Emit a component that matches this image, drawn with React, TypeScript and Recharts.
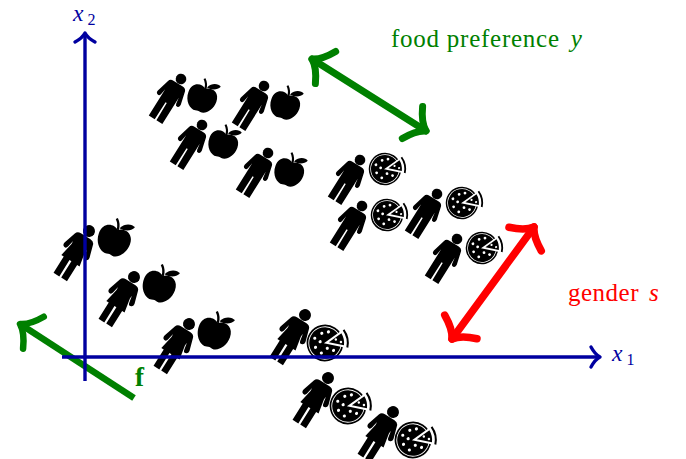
import { ScatterChart, Scatter, XAxis, YAxis } from 'recharts'

// one unit is one pixel, the origin is where the two axes cross
const menApple = [
  { x: 96, y: 278 },
  { x: 179, y: 271 },
  { x: 117, y: 232 },
  { x: 183, y: 204 }
]
const menPizza = [
  { x: 275, y: 197 },
  { x: 277, y: 151 },
  { x: 352, y: 163 },
  { x: 372, y: 118 }
]
const womenApple = [
  { x: 4, y: 126 },
  { x: 49, y: 80 },
  { x: 104, y: 33 }
]
const womenPizza = [
  { x: 220, y: 42 },
  { x: 243, y: -21 },
  { x: 308, y: -55 }
]

const axisX1 = [{ x: -23, y: 0 }, { x: 515, y: 0 }]
const axisX2 = [{ x: 0, y: -24 }, { x: 0, y: 324 }]
const directionF = [{ x: 49, y: -41 }, { x: -65, y: 33 }]
const foodArrow = [{ x: 341, y: 226 }, { x: 227, y: 298 }]
const genderArrow = [{ x: 367, y: 18 }, { x: 449, y: 130 }]

const foodLabelAt = [{ x: 306, y: 310 }]
const genderLabelAt = [{ x: 483, y: 56 }]
const x1LabelAt = [{ x: 527, y: -4 }]
const x2LabelAt = [{ x: -12, y: 336 }]
const fLabelAt = [{ x: 50, y: -29 }]

const BLUE = '#0000a0'
const GREEN = '#008000'
const RED = '#ff0000'
const SERIF = '"Liberation Serif", serif'

function Apple() {
  return (
    <g transform="rotate(20)">
      <path
        d="M0,-9 C-4,-13 -14,-12 -14,-1 C-14,8 -7,14 -2,13 C0,12.5 1,12.5 3,13 C8,14 14,7 14,-1 C14,-11 5,-13 0,-9 Z"
        fill="#000"
      />
      <path d="M0,-9 C0,-13 -2,-16 -4,-18" fill="none" stroke="#000" strokeWidth={2} />
      <path d="M1,-11 C4,-17 10,-18 13,-16 C11,-12 6,-10 1,-11 Z" fill="#000" />
    </g>
  )
}

const pizzaDots = [[-8, -6], [-1, -9], [5, -9], [-9, 2], [-4, -2], [-5, 8], [1, 5], [6, 8]]

function Pizza() {
  return (
    <g transform="rotate(-12)">
      <circle r={15.5} fill="#fff" stroke="#000" strokeWidth={1.5} />
      <circle r={14} fill="#000" />
      {pizzaDots.map(([dx, dy], i) => (
        <circle key={i} cx={dx} cy={dy} r={1.4} fill="#fff" />
      ))}
      <path d="M-1,0 L22,-10 L22,10 Z" fill="#fff" />
      <path d="M3.5,0 L16,-5.5 A17,17 0 0 1 16,5.5 Z" fill="#000" />
      <circle cx={10} cy={-1} r={1.1} fill="#fff" />
      <circle cx={14} cy={2} r={1.1} fill="#fff" />
      <path d="M18.5,-8 A20,20 0 0 1 18.5,8" fill="none" stroke="#000" strokeWidth={1.8} />
    </g>
  )
}

function Man() {
  return (
    <g transform="rotate(32)">
      <circle r={5.3} fill="#000" />
      <path
        d="M-10,8.5 Q-9,5.5 -5.5,5.5 L5.5,5.5 Q9,5.5 10,8.5 L13.5,22 Q14,25 11.5,25.5 Q9.5,26 9,23.5 L8,17 L8,48 L1,48 L0.7,28 L-0.7,28 L-1,48 L-8,48 L-8,17 L-9,23.5 Q-9.5,26 -11.5,25.5 Q-14,25 -13.5,22 Z"
        fill="#000"
      />
    </g>
  )
}

function Woman() {
  return (
    <g transform="rotate(32) scale(1.13)">
      <circle r={5.3} fill="#000" />
      <path
        d="M-9.5,8.5 Q-8.5,5.5 -5,5.5 L5,5.5 Q8.5,5.5 9.5,8.5 L13,20 Q13.5,23 11,23.5 Q9,24 8.5,21.5 L7.2,15 L7,18 L9.5,31 L7,31 L7,48 L1,48 L1,31 L-1,31 L-1,48 L-7,48 L-7,31 L-9.5,31 L-7,18 L-7.2,15 L-8.5,21.5 Q-9,24 -11,23.5 Q-13.5,23 -13,20 Z"
        fill="#000"
      />
    </g>
  )
}

function figure(Person: () => any, Icon: () => any, dx: number, dy: number, iconScale = 1) {
  return (props: any) => (
    <g transform={`translate(${props.cx},${props.cy})`}>
      <Person />
      <g transform={`translate(${dx},${dy}) scale(${iconScale})`}>
        <Icon />
      </g>
    </g>
  )
}

// curved arrow head, one per end of the segment unless single is set
function arrowHead(seg: { x: number; y: number }[], color: string, w: number, back: number, side: number, single = false) {
  return (props: any) => {
    const p = props.payload
    const atEnd = p.x === seg[1].x && p.y === seg[1].y
    if (single && !atEnd) return <g />
    const from = atEnd ? seg[0] : seg[1]
    const to = atEnd ? seg[1] : seg[0]
    const angle = (Math.atan2(-(to.y - from.y), to.x - from.x) * 180) / Math.PI
    return (
      <path
        transform={`translate(${props.cx},${props.cy}) rotate(${angle})`}
        d={`M${-back},${-side} Q${-back * 0.55},${-side * 0.25} 0,0 Q${-back * 0.55},${side * 0.25} ${-back},${side}`}
        fill="none"
        stroke={color}
        strokeWidth={w}
        strokeLinecap="round"
        strokeLinejoin="round"
      />
    )
  }
}

function arrowLine(color: string, w: number, cap = 'round') {
  return { stroke: color, strokeWidth: w, strokeLinecap: cap }
}

function textAt(content: any, color: string, size: number, bold = false, spacing = 0) {
  return (props: any) => (
    <text
      x={props.cx}
      y={props.cy}
      fill={color}
      fontFamily={SERIF}
      fontSize={size}
      fontWeight={bold ? 'bold' : 'normal'}
      letterSpacing={spacing}
    >
      {content}
    </text>
  )
}

export default function App() {
  return (
    <div style={{ position: 'absolute', left: 0, top: 0, width: 686, height: 459, background: '#fff' }}>
      <ScatterChart width={686} height={459} margin={{ top: 0, right: 0, bottom: 0, left: 0 }}>
        <XAxis type="number" dataKey="x" domain={[-85, 601]} hide allowDataOverflow />
        <YAxis type="number" dataKey="y" domain={[-102, 357]} hide allowDataOverflow />

        <Scatter data={menApple} isAnimationActive={false} shape={figure(Man, Apple, 21, 19, 1.06)} />
        <Scatter data={menPizza} isAnimationActive={false} shape={figure(Man, Pizza, 25, 9)} />
        <Scatter data={womenApple} isAnimationActive={false} shape={figure(Woman, Apple, 25, 9, 1.18)} />
        <Scatter data={womenPizza} isAnimationActive={false} shape={figure(Woman, Pizza, 20, 28, 1.13)} />

        <Scatter
          data={directionF}
          isAnimationActive={false}
          line={arrowLine(GREEN, 6.5, 'butt')}
          shape={arrowHead(directionF, GREEN, 6.5, 16, 19, true)}
        />
        <Scatter
          data={foodArrow}
          isAnimationActive={false}
          line={arrowLine(GREEN, 7)}
          shape={arrowHead(foodArrow, GREEN, 7, 16, 19)}
        />
        <Scatter
          data={genderArrow}
          isAnimationActive={false}
          line={arrowLine(RED, 7.5)}
          shape={arrowHead(genderArrow, RED, 7.5, 15, 20)}
        />
        <Scatter
          data={axisX1}
          isAnimationActive={false}
          line={arrowLine(BLUE, 3.4, 'butt')}
          shape={arrowHead(axisX1, BLUE, 3.4, 9, 10, true)}
        />
        <Scatter
          data={axisX2}
          isAnimationActive={false}
          line={arrowLine(BLUE, 3.4, 'butt')}
          shape={arrowHead(axisX2, BLUE, 3.4, 9, 10, true)}
        />

        <Scatter
          data={foodLabelAt}
          isAnimationActive={false}
          shape={textAt(
            <>
              food preference<tspan dx={11} fontStyle="italic">y</tspan>
            </>,
            GREEN,
            25,
            false,
            0.75
          )}
        />
        <Scatter
          data={genderLabelAt}
          isAnimationActive={false}
          shape={textAt(
            <>
              gender<tspan dx={10} fontStyle="italic">s</tspan>
            </>,
            RED,
            25,
            false,
            0.5
          )}
        />
        <Scatter
          data={x1LabelAt}
          isAnimationActive={false}
          shape={textAt(
            <>
              <tspan fontStyle="italic">x</tspan>
              <tspan dx={3} dy={4} fontSize={16}>1</tspan>
            </>,
            BLUE,
            23.5,
            false,
            1
          )}
        />
        <Scatter
          data={x2LabelAt}
          isAnimationActive={false}
          shape={textAt(
            <>
              <tspan fontStyle="italic">x</tspan>
              <tspan dx={3} dy={4} fontSize={16}>2</tspan>
            </>,
            BLUE,
            23.5,
            false,
            1
          )}
        />
        <Scatter data={fLabelAt} isAnimationActive={false} shape={textAt('f', GREEN, 27, true)} />
      </ScatterChart>
    </div>
  )
}
